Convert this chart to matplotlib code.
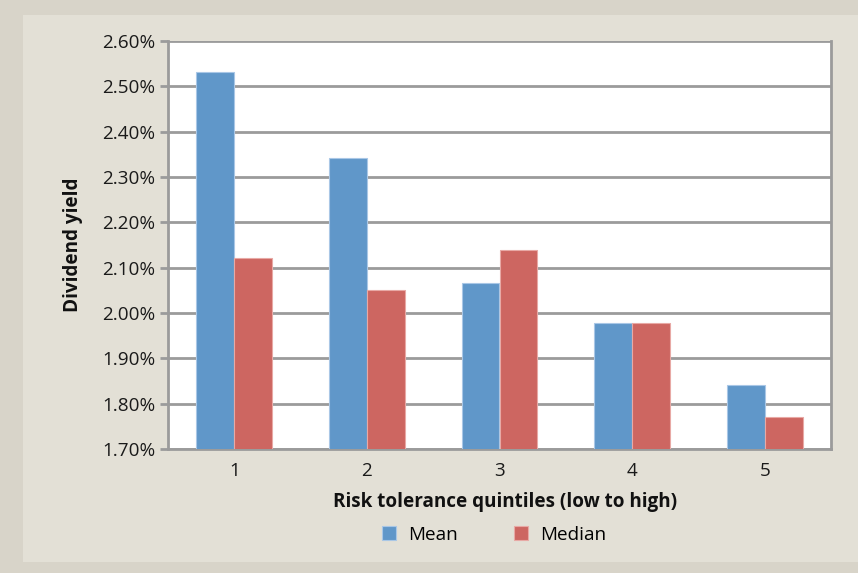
import matplotlib
matplotlib.use("Agg")
import matplotlib.pyplot as plt
from matplotlib.patches import Rectangle
from matplotlib.ticker import FuncFormatter
import numpy as np

quintiles = ["1", "2", "3", "4", "5"]
mean_yield = [2.532, 2.341, 2.066, 1.978, 1.842]
median_yield = [2.122, 2.051, 2.140, 1.978, 1.771]
y_ticks = [1.70, 1.80, 1.90, 2.00, 2.10, 2.20, 2.30, 2.40, 2.50, 2.60]

plt.rcParams["font.family"] = ["Open Sans", "DejaVu Sans"]

W, H = 858, 573
FS = 13.6
fig = plt.figure(figsize=(W / 100, H / 100), dpi=100)
fig.patch.set_facecolor("#D8D4C9")
# inner panel
fig.add_artist(Rectangle((23 / W, 1 - 562 / H), (858 - 23) / W, (562 - 15) / H,
                         transform=fig.transFigure, facecolor="#E3E0D6",
                         edgecolor="none", zorder=0))

left, right, top, bottom = 168, 831, 41, 449
ax = fig.add_axes([left / W, 1 - bottom / H, (right - left) / W, (bottom - top) / H])
ax.set_facecolor("white")

x = np.arange(len(quintiles))
bw = 0.2857
ax.bar(x - bw / 2, mean_yield, width=bw, color="#6097C9", edgecolor="#A9C7E6",
       linewidth=0.8, label="Mean", zorder=3)
ax.bar(x + bw / 2, median_yield, width=bw, color="#CD6661", edgecolor="#E8A9A5",
       linewidth=0.8, label="Median", zorder=3)

ax.set_xlim(-0.5, len(quintiles) - 0.5)
ax.set_ylim(1.70, 2.60)
ax.set_yticks(y_ticks)
ax.yaxis.set_major_formatter(FuncFormatter(lambda v, p: f"{v:.2f}%"))
ax.set_xticks(x)
ax.set_xticklabels(quintiles)
ax.grid(axis="y", color="#9B9B9B", linewidth=2.0, zorder=1)
ax.set_axisbelow(True)

for s in ["left", "bottom", "right"]:
    ax.spines[s].set_color("#9B9B9B")
    ax.spines[s].set_linewidth(2.0)
ax.spines["top"].set_visible(False)

ax.tick_params(axis="y", length=6, width=2, color="#9B9B9B", labelsize=FS,
               labelcolor="#1a1a1a", pad=3)
ax.tick_params(axis="x", length=0, labelsize=FS, labelcolor="#1a1a1a", pad=9)

ax.set_ylabel("Dividend yield", fontsize=FS, fontweight="bold", labelpad=14,
              color="#111111")
fig.text(505 / W, 1 - 502 / H, "Risk tolerance quintiles (low to high)",
         ha="center", va="center", fontsize=FS, fontweight="bold", color="#111111")

leg = fig.legend(loc="center", bbox_to_anchor=(494 / W, 1 - 535 / H), ncol=2,
                 frameon=False, fontsize=FS, handlelength=0.75, handleheight=0.75,
                 columnspacing=3.0, handletextpad=0.6)

fig.savefig("out.png", dpi=100, facecolor=fig.get_facecolor())
